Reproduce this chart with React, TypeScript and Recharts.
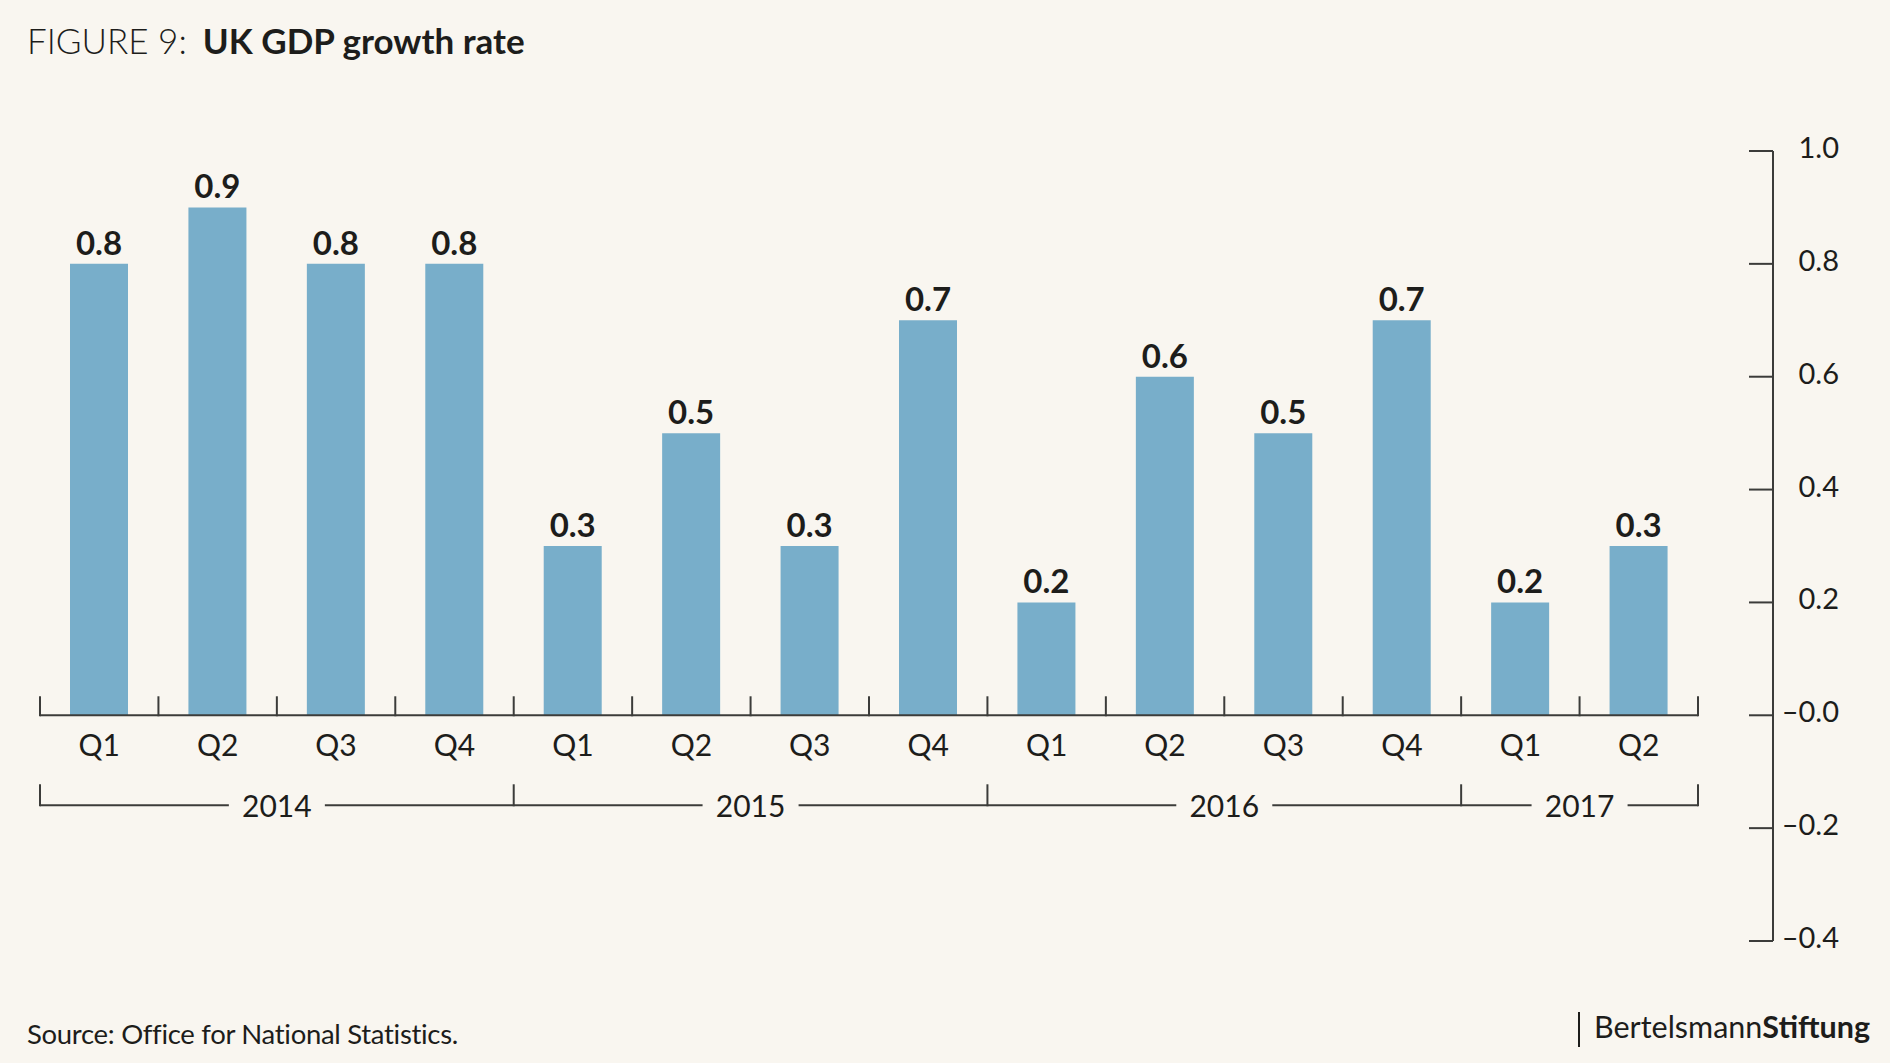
import React from "react";
import { BarChart, Bar, XAxis, YAxis, LabelList } from "recharts";

const QUARTERS = ["Q1", "Q2", "Q3", "Q4", "Q1", "Q2", "Q3", "Q4", "Q1", "Q2", "Q3", "Q4", "Q1", "Q2"];
const YEARS = ["2014", "2014", "2014", "2014", "2015", "2015", "2015", "2015", "2016", "2016", "2016", "2016", "2017", "2017"];
const GROWTH = [0.8, 0.9, 0.8, 0.8, 0.3, 0.5, 0.3, 0.7, 0.2, 0.6, 0.5, 0.7, 0.2, 0.3];
const Y_TICKS = [-0.4, -0.2, 0, 0.2, 0.4, 0.6, 0.8, 1.0];
const Y_TICK_LABELS = ["\u20130.4", "\u20130.2", "\u20130.0", "0.2", "0.4", "0.6", "0.8", "1.0"];

const data = QUARTERS.map((q, i) => ({ q: `${YEARS[i]}-${q}`, quarter: q, year: YEARS[i], value: GROWTH[i] }));

const W = 1890;
const H = 1063;
const BG = "#f9f6f0";
const BAR = "#78aeca";
const INK = "#1d1d1b";
const LINE = "#3c3c3a";
const FONT = "Lato, 'Open Sans', sans-serif";

// plot geometry
const TOP = 151;
const BOTTOM = 941;
const LEFT = 40;
const AXIS_X = 1773;
const PAD_R = 75;
const BAND = (AXIS_X - PAD_R - LEFT) / QUARTERS.length;
const Y_MIN = -0.4;
const Y_MAX = 1.0;
const Y0 = TOP + ((Y_MAX - 0) / (Y_MAX - Y_MIN)) * (BOTTOM - TOP);

function XTick(props: any) {
  const { x, payload } = props;
  const i = payload.index;
  const left = x - BAND / 2;
  const right = x + BAND / 2;
  const year = YEARS[i];
  const first = i === 0 || YEARS[i - 1] !== year;
  let bracket = null;
  if (first) {
    const len = YEARS.filter((y) => y === year).length;
    const end = left + len * BAND;
    const mid = (left + end) / 2;
    const by = Y0 + 90;
    const last = i + len >= YEARS.length;
    bracket = (
      <g>
        <line x1={left} x2={mid - 48} y1={by} y2={by} stroke={LINE} strokeWidth={2} />
        <line x1={mid + 48} x2={end} y1={by} y2={by} stroke={LINE} strokeWidth={2} />
        <line x1={left} x2={left} y1={by - 21} y2={by + 1} stroke={LINE} strokeWidth={2} />
        {last && <line x1={end} x2={end} y1={by - 21} y2={by + 1} stroke={LINE} strokeWidth={2} />}
        <text x={mid} y={by + 12} textAnchor="middle" fontSize={30} fill={INK} fontFamily={FONT}>
          {year}
        </text>
      </g>
    );
  }
  return (
    <g>
      <line x1={left} x2={right} y1={Y0} y2={Y0} stroke={LINE} strokeWidth={2} />
      <line x1={left} x2={left} y1={Y0 - 19} y2={Y0 + 1} stroke={LINE} strokeWidth={2} />
      {i === QUARTERS.length - 1 && (
        <line x1={right} x2={right} y1={Y0 - 19} y2={Y0 + 1} stroke={LINE} strokeWidth={2} />
      )}
      <text x={x} y={Y0 + 41} textAnchor="middle" fontSize={30} fill={INK} fontFamily={FONT}>
        {payload.value.split("-")[1]}
      </text>
      {bracket}
    </g>
  );
}

function YTick(props: any) {
  const { y, payload } = props;
  const idx = Y_TICKS.indexOf(payload.value);
  return (
    <g>
      <line x1={AXIS_X - 24} x2={AXIS_X} y1={y} y2={y} stroke={LINE} strokeWidth={2} />
      <text x={AXIS_X + 66} y={y} dy={7} textAnchor="end" fontSize={29} fill={INK} fontFamily={FONT}>
        {Y_TICK_LABELS[idx]}
      </text>
    </g>
  );
}

export default function App() {
  return (
    <div style={{ position: "absolute", left: 0, top: 0, width: W, height: H, background: BG, fontFamily: FONT }}>
      <style>{`body{margin:0;background:${BG};}`}</style>
      <div style={{ position: "absolute", left: 27, top: 19, fontSize: 35, color: INK, whiteSpace: "nowrap" }}>
        <span style={{ fontWeight: 300 }}>FIGURE 9:</span>
        <span style={{ fontWeight: 700, marginLeft: 16 }}>UK GDP growth rate</span>
      </div>
      <BarChart
        width={W}
        height={H}
        data={data}
        margin={{ top: TOP, right: 0, bottom: 0, left: LEFT }}
        style={{ position: "absolute", left: 0, top: 0 }}
      >
        <XAxis
          dataKey="q"
          type="category"
          padding={{ left: 0, right: PAD_R }}
          axisLine={false}
          tickLine={false}
          tick={<XTick />}
          interval={0}
          height={H - BOTTOM}
        />
        <YAxis
          orientation="right"
          type="number"
          domain={[Y_MIN, Y_MAX]}
          ticks={Y_TICKS}
          width={W - AXIS_X}
          axisLine={{ stroke: LINE, strokeWidth: 2 }}
          tickLine={false}
          tick={<YTick />}
          interval={0}
        />
        <Bar dataKey="value" fill={BAR} barSize={58} isAnimationActive={false}>
          <LabelList
            dataKey="value"
            position="top"
            offset={9}
            formatter={(v: any) => Number(v).toFixed(1)}
            style={{ fontSize: 33, fontWeight: 700, fill: INK, fontFamily: FONT }}
          />
        </Bar>
      </BarChart>
      <div style={{ position: "absolute", left: 27, top: 1017, fontSize: 27.5, color: INK, letterSpacing: -0.3 }}>
        Source: Office for National Statistics.
      </div>
      <div
        style={{
          position: "absolute",
          left: 1578,
          top: 1012,
          height: 35,
          borderLeft: `2px solid ${INK}`,
        }}
      />
      <div style={{ position: "absolute", left: 1594, top: 1008, fontSize: 30.5, color: INK, whiteSpace: "nowrap" }}>
        <span>Bertelsmann</span>
        <span style={{ fontWeight: 700 }}>Stiftung</span>
      </div>
    </div>
  );
}
